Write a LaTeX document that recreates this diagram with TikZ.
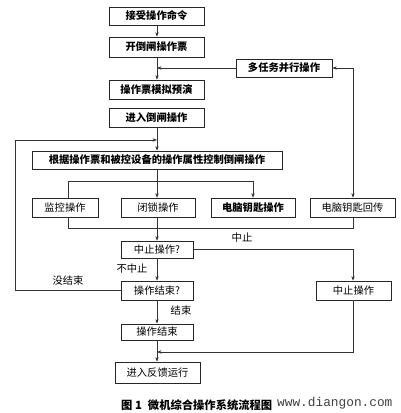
\documentclass[tikz,border=0pt]{standalone}
\usepackage{fontspec}
\newfontfamily\cjk{Noto Sans CJK SC}
\newfontfamily\wm{Liberation Mono}
\usetikzlibrary{arrows.meta}
\begin{document}
\begin{tikzpicture}[x=1pt,y=-1pt,
  box/.style={draw=black!85,line width=0.7pt,minimum height=#1,inner sep=0pt,font=\cjk\fontsize{10.3}{12}\selectfont},
  box/.default=19pt,
  ln/.style={draw=black!80,line width=0.6pt},
  arr/.style={ln,-{Stealth[length=4.5pt,width=3.4pt]}},
  lbl/.style={font=\cjk\fontsize{10.3}{12}\selectfont,inner sep=0pt}]
\useasboundingbox (0,0) rectangle (400,413);
% boxes
\node[box=18pt,minimum width=95pt] (A) at (156.5,16) {\textbf{接受操作命令}};
\node[box=20pt,minimum width=95pt] (B) at (156.5,47) {\textbf{开倒闸操作票}};
\node[box=18pt,minimum width=96pt] (M) at (284,68) {\textbf{多任务并行操作}};
\node[box=19pt,minimum width=95pt] (C) at (156.5,89.5) {\textbf{操作票模拟预演}};
\node[box=19pt,minimum width=95pt] (D) at (156.5,117.5) {\textbf{进入倒闸操作}};
\node[box=18pt,minimum width=250pt] (E) at (157,160) {\textbf{根据操作票和被控设备的操作属性控制倒闸操作}};
\node[box=19pt,minimum width=66pt] (F1) at (65,207.5) {监控操作};
\node[box=19pt,minimum width=74pt] (F2) at (158,207.5) {闭锁操作};
\node[box=19pt,minimum width=84pt] (F3) at (253,207.5) {\textbf{电脑钥匙操作}};
\node[box=19pt,minimum width=85pt] (F4) at (352.5,207.5) {电脑钥匙回传};
\node[box=17pt,minimum width=72pt] (G) at (157,249.5) {中止操作?};
\node[box=19pt,minimum width=72pt] (H) at (157,290.5) {操作结束?};
\node[box=19pt,minimum width=75pt] (I) at (353.5,290.5) {中止操作};
\node[box=16pt,minimum width=72pt] (J) at (157,332) {操作结束};
\node[box=21pt,minimum width=85pt] (K) at (157.5,372.5) {进入反馈运行};
% junction coordinates
\coordinate (jm) at (157,68);
\coordinate (jl) at (157,140);
\coordinate (jb) at (157,181);
\coordinate (jr) at (157,352);
% connectors
\draw[arr] (A.south -| jm) -- (B.north -| jm);
\draw[arr] (B.south -| jm) -- (C.north -| jm);
\draw[arr] (M.west) -- (jm);
\draw[ln,{Stealth[length=4.5pt,width=3.4pt]}-{Stealth[length=4.5pt,width=3.4pt]}] (M.east) -| (F4.north -| 353,0);
\draw[arr] (D.south -| jm) -- (E.north -| jm);
\draw[arr] (H.west) -| (15,140) -- (jl);
\draw[arr] (E.south -| jm) -- (F2.north -| jm);
\draw[ln] (F1.north -| 68,0) |- (jb);
\draw[arr] (jb) -| (F3.north);
\draw[ln] (F1.south -| 68,0) |- (353,228) -- (F4.south -| 353,0);
\draw[arr] (F2.south -| jm) -- (G.north -| jm);
\draw[arr] (G.east) -| (I.north -| 353,0);
\draw[arr] (G.south -| jm) -- (H.north -| jm);
\draw[arr] (H.south -| jm) -- (J.north -| jm);
\draw[arr] (J.south -| jm) -- (K.north -| jm);
\draw[arr] (I.south -| 353,0) |- (jr);
% labels
\node[lbl] (l1) at (242,238) {中止};
\node[lbl] (l2) at (132,269) {不中止};
\node[lbl] (l3) at (68,281) {没结束};
\node[lbl] (l4) at (181,311) {结束};
% caption
\node[font=\cjk\fontsize{11.3}{13}\selectfont,anchor=west,inner sep=0pt] (cap) at (121,405) {\textbf{图 1\hspace{6pt}微机综合操作系统流程图}};
\node[font=\wm\fontsize{12.8}{14}\selectfont,text=black!75,anchor=west,inner sep=0pt] (wmk) at (277,403) {www.diangon.com};
\end{tikzpicture}
\end{document}
